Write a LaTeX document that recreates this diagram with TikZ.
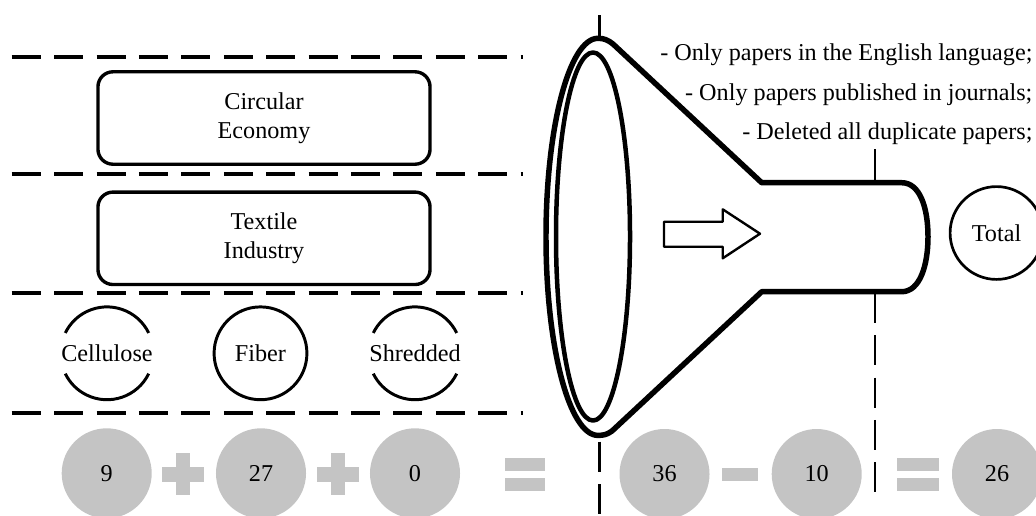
\documentclass[tikz,border=0pt]{standalone}
\usepackage{fontspec}
\setmainfont{Liberation Serif}
\definecolor{cgrey}{HTML}{C4C4C4}
\tikzset{
  every picture/.style={line join=round},
  every node/.style={font=\fontsize{17.2}{20.6}\selectfont},
  sep/.style={line width=2.8pt, dash pattern=on 0.725cm off 0.335cm},
  cut/.style={line width=2.1pt},
  cutdash/.style={cut, dash pattern=on 0.75cm off 0.3075cm},
  box/.style={draw, line width=2.4pt, rounded corners=0.375cm, align=center, minimum width=8.3cm, minimum height=2.31cm},
  ring/.style={circle, draw, line width=2.1pt, minimum size=2.32cm, inner sep=0pt, outer sep=0pt},
  half/.style={line width=2.1pt},
  tally/.style={circle, fill=cgrey, minimum size=2.25cm, inner sep=0pt},
  funnel/.style={draw, fill=white, line width=3.9pt},
  mouth/.style={draw, line width=3.2pt},
  hollow/.style={draw, fill=white, line width=1.7pt},
  note/.style={anchor=base east, inner sep=0pt},
}

\begin{document}
\begin{tikzpicture}[x=0.025cm, y=-0.025cm]
  \useasboundingbox (0,0) rectangle (1036,515);

  \draw[sep] (11.7,57.3) -- (523,57.3);
  \draw[sep] (11.7,173.7) -- (523,173.7);
  \draw[sep] (11.7,292.7) -- (523,292.7);
  \draw[sep] (11.7,412.7) -- (523,412.7);

  \node[box] (ce) at (264,118) {Circular\\Economy};
  \node[box] (ti) at (264,238.3) {Textile\\Industry};

  \node[ring, draw=none] (cell) at (107,353.3) {Cellulose};
  \node[ring] (fib) at (260.5,353.3) {Fiber};
  \node[ring, draw=none] (shr) at (415,353.3) {Shredded};
  \draw[half] ([shift={(26:1.16cm)}]cell.center) arc[start angle=26, end angle=154, radius=1.16cm];
  \draw[half] ([shift={(-26:1.16cm)}]cell.center) arc[start angle=-26, end angle=-154, radius=1.16cm];
  \draw[half] ([shift={(26:1.16cm)}]shr.center) arc[start angle=26, end angle=154, radius=1.16cm];
  \draw[half] ([shift={(-26:1.16cm)}]shr.center) arc[start angle=-26, end angle=-154, radius=1.16cm];

  \draw[cut] (599.3,15) -- (599.3,40);
  \draw[cutdash] (599.3,441.7) -- (599.3,525);
  \draw[cut] (875,149.3) -- (875,184);
  \draw[cutdash] (875,293) -- (875,493.3);

  \draw[funnel] (598,38.3) arc[start angle=90, end angle=270, x radius=1.3cm, y radius=4.9625cm]
    .. controls (604,435.3) and (607,434.5) .. (612,431) -- (761.7,291.7) -- (901.7,291.7)
    .. controls (920,291.7) and (928,265) .. (928,236.8)
    .. controls (928,208) and (920,182.7) .. (901.7,182.7) -- (761.7,182.7) -- (613,44)
    .. controls (608,40) and (604,38.3) .. (598,38.3) -- cycle;
  \draw[mouth] (593,236.5) ellipse[x radius=0.925cm, y radius=4.6cm];
  \draw[hollow] (664,221.7) -- (722.7,221.7) -- (722.7,209.3) -- (760,233.7) -- (722.7,258.3)
    -- (722.7,246.7) -- (664,246.7) -- cycle;

  \node[note] (r1) at (1032.7,60) {- Only papers in the English language;};
  \node[note] (r2) at (1032.7,100) {- Only papers published in journals;};
  \node[note] (r3) at (1032.7,139.5) {- Deleted all duplicate papers;};

  \node[ring, line width=1.9pt] (total) at (996.5,233) {Total};

  \node[tally] (n9) at (106.7,473.3) {9};
  \node[tally] (n27) at (261,473.3) {27};
  \node[tally] (n0) at (415,473.3) {0};
  \node[tally] (n36) at (664.5,474) {36};
  \node[tally] (n10) at (816.7,474) {10};
  \node[tally] (n26) at (997,474) {26};

  \fill[cgrey] (162,466.5) rectangle (204,481.5);
  \fill[cgrey] (176,453) rectangle (190,495);
  \fill[cgrey] (317,466.5) rectangle (359,481.5);
  \fill[cgrey] (331,453) rectangle (345,495);
  \fill[cgrey] (504.5,457.7) rectangle (545,470.7);
  \fill[cgrey] (504.5,477.7) rectangle (545,491);
  \fill[cgrey] (722.3,467.7) rectangle (758.3,481);
  \fill[cgrey] (896.7,457.7) rectangle (939,470.7);
  \fill[cgrey] (896.7,477.7) rectangle (939,491);
\end{tikzpicture}
\end{document}
